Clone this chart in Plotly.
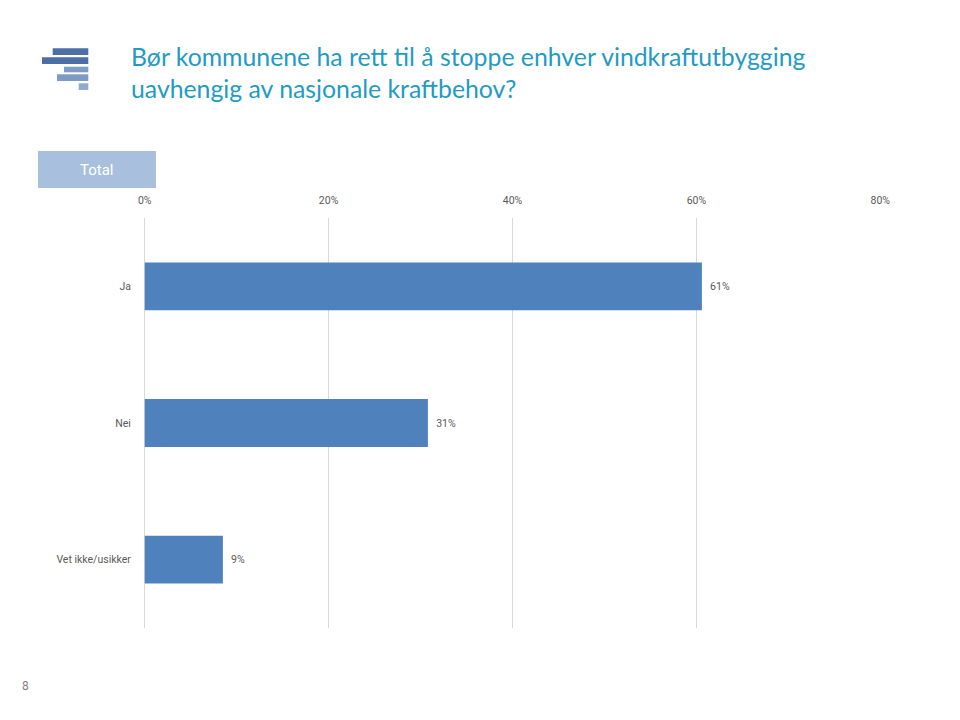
import plotly.graph_objects as go

categories = ["Ja", "Nei", "Vet ikke/usikker"]
values = [0.606, 0.308, 0.085]
tick_vals = [0, 0.2, 0.4, 0.6, 0.8]
tick_text = ["0%", "20%", "40%", "60%", "80%"]
value_labels = ["61%", "31%", "9%"]
title_lines = ["Bør kommunene ha rett til å stoppe enhver vindkraftutbygging",
               "uavhengig av nasjonale kraftbehov?"]
group_label = "Total"
page_number = "8"

W, H = 960, 720
OFF = 8  # page body margin offset
TXT = "#595959"
fig = go.Figure()
fig.add_trace(go.Bar(
    y=categories, x=values, orientation="h",
    marker=dict(color="#4f81bd", line=dict(width=0)),
    text=["  " + t for t in value_labels], texttemplate="%{text}", textposition="outside",
    textfont=dict(family="Roboto", size=10.5, color=TXT),
    cliponaxis=False, width=0.35,
))

def px(x):
    return (x - OFF) / W

def py(y):
    return 1 - (y - OFF) / H

shapes = []
# logo bars (x0, x1, y0, y1, color)
logo = [
    (52.7, 88.3, 48.3, 55.0, "#4d6fa6"),
    (42.0, 88.3, 57.3, 64.0, "#4d6fa6"),
    (64.0, 88.3, 66.7, 72.3, "#7e9bc6"),
    (57.0, 88.3, 74.3, 81.0, "#7e9bc6"),
    (78.7, 88.3, 83.3, 90.0, "#8fabd2"),
]
for x0, x1, y0, y1, c in logo:
    shapes.append(dict(type="rect", xref="paper", yref="paper",
                       x0=px(x0), x1=px(x1), y0=py(y1), y1=py(y0),
                       fillcolor=c, line=dict(width=0), layer="above"))
shapes.append(dict(type="rect", xref="paper", yref="paper",
                   x0=px(38), x1=px(156), y0=py(188), y1=py(151),
                   fillcolor="#a8c0de", line=dict(width=0), layer="below"))

fig.update_layout(
    width=W, height=H,
    margin=dict(l=0, r=0, t=0, b=0, pad=0),
    paper_bgcolor="white", plot_bgcolor="white",
    showlegend=False,
    xaxis=dict(domain=[px(144), px(881)], range=[-0.0008, 0.8008], side="top",
               tickvals=tick_vals, ticktext=tick_text,
               tickfont=dict(family="Roboto", size=10.5, color=TXT),
               showgrid=True, gridcolor="#d9d9d9", gridwidth=1,
               zeroline=True, zerolinecolor="#d9d9d9", zerolinewidth=1,
               showline=False, automargin=False,
               ticks="outside", ticklen=9, tickcolor="rgba(0,0,0,0)",
               fixedrange=True),
    yaxis=dict(domain=[py(628), py(218)], autorange="reversed",
               tickfont=dict(family="Roboto", size=10.5, color=TXT),
               showgrid=False, zeroline=False, showline=False, automargin=False,
               ticks="outside", ticklen=10, tickcolor="rgba(0,0,0,0)",
               fixedrange=True),
    font=dict(family="Roboto"),
    shapes=shapes,
    annotations=[
        dict(text="<br>".join(title_lines), x=px(129), y=py(40), xref="paper", yref="paper",
             xanchor="left", yanchor="top", align="left", showarrow=False,
             font=dict(family="Lato", size=24.8, color="#1f9bc4")),
        dict(text=group_label, x=px(97), y=py(170), xref="paper", yref="paper",
             xanchor="center", yanchor="middle", showarrow=False,
             font=dict(family="Roboto", size=15, color="white")),
        dict(text=page_number, x=px(25), y=py(686), xref="paper", yref="paper",
             xanchor="center", yanchor="middle", showarrow=False,
             font=dict(family="Roboto", size=12, color="#808080")),
    ],
)
fig.write_html("out.html")
